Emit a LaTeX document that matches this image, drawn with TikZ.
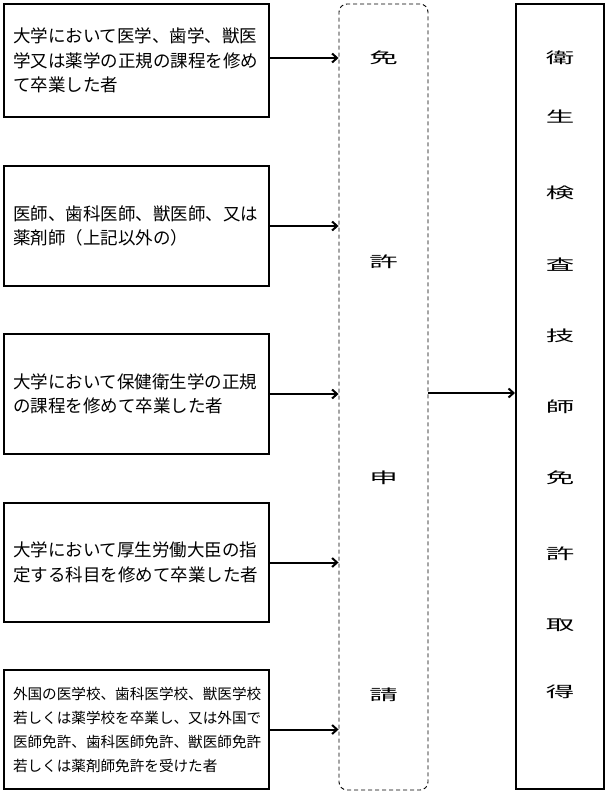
\documentclass[tikz,border=0pt]{standalone}
\usepackage{fontspec}
\usepackage{graphicx}
\newfontfamily\jp{Noto Sans CJK JP}
\usetikzlibrary{arrows.meta}
\newcommand\wch[1]{\scalebox{1.9}[1]{#1}}
\tikzset{
  lbox/.style={draw, line width=2pt, text width=247pt, align=left, inner xsep=8pt, inner ysep=0pt,
    font=\jp\fontsize{17.5}{24.5}\selectfont, minimum width=265pt},
  sbox/.style={lbox, font=\jp\fontsize{14.6}{24}\selectfont},
  arr/.style={-{Straight Barb[length=5pt,width=9pt]}, line width=2pt},
  vch/.style={font=\jp\fontsize{15}{15}\selectfont, inner sep=0pt},
  dbox/.style={draw, line width=0.9pt, dash pattern=on 4pt off 3pt, rounded corners=8pt,
    minimum width=89pt, minimum height=786pt, inner sep=0pt},
  rbox/.style={draw, line width=2pt, minimum width=88pt, minimum height=785pt, inner sep=0pt}
}
\begin{document}
\begin{tikzpicture}[x=1pt,y=-1pt]
\useasboundingbox (0,0) rectangle (609,794);
\fill[white] (0,0) rectangle (609,794);
\node[lbox, minimum height=113pt] (b1) at (136.5,60.5) {大学において医学、歯学、獣医\\学又は薬学の正規の課程を修め\\て卒業した者};
\node[lbox, minimum height=120pt] (b2) at (136.5,226) {医師、歯科医師、獣医師、又は\\薬剤師（上記以外の）};
\node[lbox, minimum height=120pt] (b3) at (136.5,394) {大学において保健衛生学の正規\\の課程を修めて卒業した者};
\node[lbox, minimum height=119pt] (b4) at (136.5,562.5) {大学において厚生労働大臣の指\\定する科目を修めて卒業した者};
\node[sbox, minimum height=119pt] (b5) at (136.5,729.5) {外国の医学校、歯科医学校、獣医学校\\若しくは薬学校を卒業し、又は外国で\\医師免許、歯科医師免許、獣医師免許\\若しくは薬剤師免許を受けた者};
\node[dbox] (app) at (383.5,397) {};
\node[rbox] (res) at (560,396.5) {};
\node[vch] (a1) at (383.5,58) {\wch{免}};
\node[vch] (a2) at (383.5,262) {\wch{許}};
\node[vch] (a3) at (383.5,478) {\wch{申}};
\node[vch] (a4) at (383.5,695) {\wch{請}};
\node[vch] (r1) at (560,58) {\wch{衛}};
\node[vch] (r2) at (560,117) {\wch{生}};
\node[vch] (r3) at (560,193) {\wch{検}};
\node[vch] (r4) at (560,265) {\wch{査}};
\node[vch] (r5) at (560,336) {\wch{技}};
\node[vch] (r6) at (560,407) {\wch{師}};
\node[vch] (r7) at (560,478) {\wch{免}};
\node[vch] (r8) at (560,554) {\wch{許}};
\node[vch] (r9) at (560,625) {\wch{取}};
\node[vch] (r10) at (560,692) {\wch{得}};
\draw[arr] ([yshift=2.5pt]b1.east) -- ([yshift=2.5pt]b1.east -| app.west);
\draw[arr] (b2.east) -- (b2.east -| app.west);
\draw[arr] (b3.east) -- (b3.east -| app.west);
\draw[arr] (b4.east) -- (b4.east -| app.west);
\draw[arr] (b5.east) -- (b5.east -| app.west);
\draw[arr] ([yshift=4pt]app.east) -- ([yshift=4pt]app.east -| res.west);
\end{tikzpicture}
\end{document}
